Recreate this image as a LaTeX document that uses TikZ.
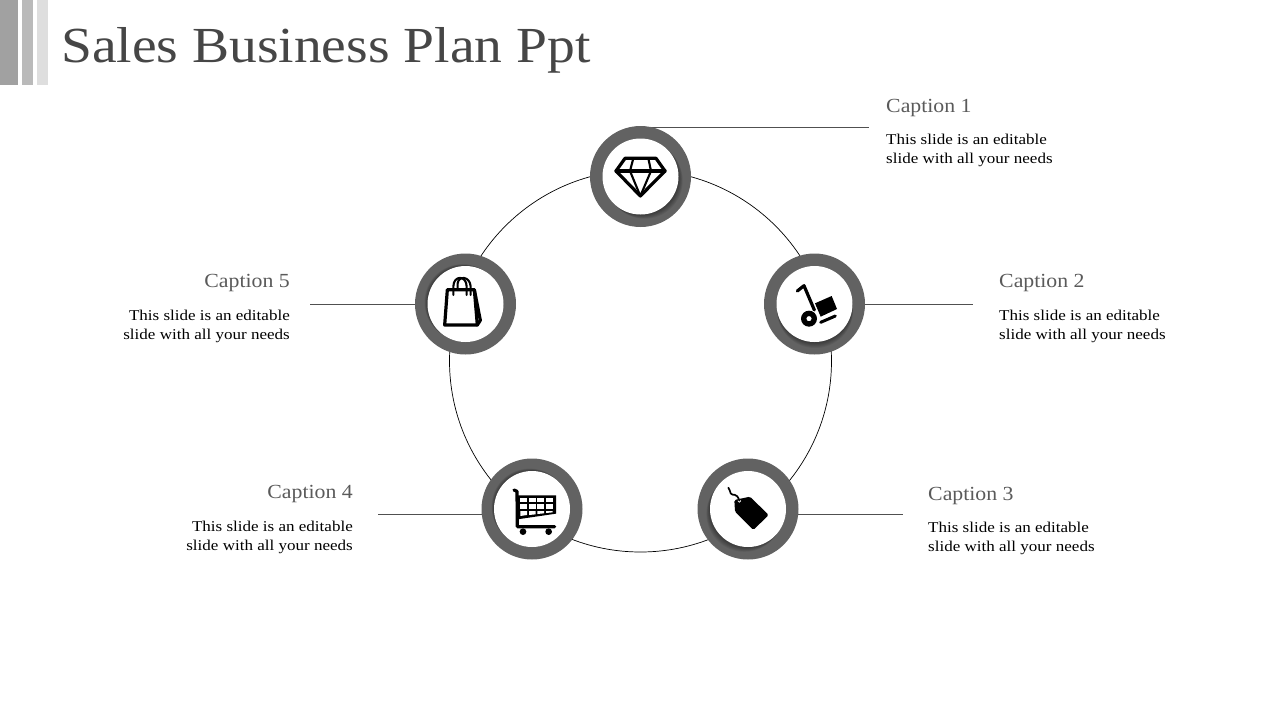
\documentclass[tikz,border=0pt]{standalone}
\usepackage{fontspec}
\setmainfont[FakeStretch=1.09]{Liberation Serif}
\newfontfamily\bodyfnt[FakeStretch=1.135]{Liberation Serif}
\newfontfamily\titlefnt[FakeStretch=1.10]{Liberation Serif}
\usetikzlibrary{backgrounds}
\definecolor{ringgray}{HTML}{626262}
\definecolor{titlegray}{HTML}{464646}
\definecolor{capgray}{HTML}{5A5A5A}
\definecolor{leadgray}{HTML}{505050}
\tikzset{
  ring/.style={circle,draw=none,fill=ringgray,minimum size=101pt,inner sep=0pt},
  disc/.style={circle,draw=none,fill=white,minimum size=76pt,inner sep=0pt},
  bar/.style={draw=none,inner sep=0pt,anchor=north west},
  titletext/.style={anchor=base west,inner sep=0pt,text=titlegray,font=\titlefnt\fontsize{50.5}{56}\selectfont},
  captext/.style={inner sep=0pt,text=capgray,font=\fontsize{20}{24}\selectfont},
  bodytext/.style={inner sep=0pt,text=black,font=\bodyfnt\fontsize{15}{19}\selectfont},
  leader/.style={draw=leadgray,line width=0.8pt},
  hubring/.style={circle,draw=black,line width=0.7pt,minimum size=382pt,inner sep=0pt},
  iconline/.style={draw=black,line width=3.2pt,line join=round,line cap=round},
  iconthin/.style={draw=black,line width=2.1pt,line join=round,line cap=round},
  zoomed/.style={shift={#1},x=0.33333pt,y=-0.33333pt}
}
\begin{document}
\begin{tikzpicture}[x=1pt,y=-1pt]
\useasboundingbox (0,0) rectangle (1280,720);
% header bars
\node[bar,fill=black!37,minimum width=18pt,minimum height=85pt] (barA) at (0,0) {};
\node[bar,fill=black!27,minimum width=11pt,minimum height=85pt] (barB) at (22,0) {};
\node[bar,fill=black!13,minimum width=11pt,minimum height=85pt] (barC) at (37,0) {};
\node[titletext] (title) at (61,62) {Sales Business Plan Ppt};
% rings with inner shadow
\foreach \nm/\px/\py/\dx/\dy in {n1/640.5/176.5/.7/.7,n2/814.5/304/.1/1,n3/748/509/-.6/.8,n4/532/509/-.4/-.4,n5/465.5/304/-.5/-.3}{
  \node[ring] (\nm) at (\px,\py) {};
  \begin{scope}
    \clip (\nm) circle (50.5);
    \foreach \k in {1,2,3,4,5,6}{
      \fill[black,opacity=.07] (\nm) ++({\k*\dx},{\k*\dy}) circle (38);
    }
  \end{scope}
  \node[disc] (\nm w) at (\px,\py) {};
}
% free ends of leaders
\coordinate (e1) at (869,127.5);
\coordinate (e2) at (973,304.5);
\coordinate (e3) at (903,514.5);
\coordinate (e4) at (378,514.5);
\coordinate (e5) at (310,304.5);
\begin{scope}[on background layer]
  \node[hubring] (hub) at (640.5,361) {};
  \draw[leader] (n1.center |- e1) -- (e1);
  \draw[leader] (n2.center |- e2) -- (e2);
  \draw[leader] (n3.center |- e3) -- (e3);
  \draw[leader] (n4.center |- e4) -- (e4);
  \draw[leader] (n5.center |- e5) -- (e5);
\end{scope}
% diamond
\begin{scope}[zoomed={(580,115)}]
  \draw[iconline] (135,130) -- (228,130) -- (255,168) -- (181,243) -- (108,168) -- cycle;
  \draw[iconline] (108,168) -- (255,168);
  \draw[iconthin] (160,130) -- (150,168) -- (181,243) -- (213,168) -- (205,130);
\end{scope}
% hand truck
\begin{scope}[zoomed={(755,245)}]
  \draw[iconline] (127,138) -- (147,122) -- (178,195);
  \fill[black] (180,175) -- (230,153) -- (246,192) -- (197,215) -- cycle;
  \draw[draw=black,line width=3pt,line cap=round] (197,232) -- (241,213);
  \fill[black,even odd rule] (162,221) circle (24) (162,221) circle (8);
\end{scope}
% tag
\begin{scope}[zoomed={(690,450)}]
  \fill[black,rounded corners=1.5pt] (133,150) -- (180,140) -- (236,195) -- (190,240) -- (135,185) -- cycle;
  \fill[white] (148,153) circle (5);
  \draw[draw=black,line width=1.7pt,line cap=round] (148,152) .. controls (140,125) and (128,140) .. (122,130) .. controls (118,122) and (120,118) .. (115,113);
\end{scope}
% cart
\begin{scope}[zoomed={(472,450)}]
  \draw[iconline] (126,120) -- (135,124) -- (136,230) -- (248,230);
  \fill[black] (136,136) -- (252,136) -- (252,191) -- (136,208) -- cycle;
  \foreach \x in {145,171,196,222}{
    \foreach \y/\h in {143/14,163/14}{
      \fill[white] (\x,\y) rectangle ++(20,\h);
    }
  }
  \fill[white] (145,183) -- (165,183) -- (165,195) -- (145,198) -- cycle;
  \fill[white] (171,183) -- (191,183) -- (191,193) -- (171,195) -- cycle;
  \fill[white] (196,183) -- (216,183) -- (216,190) -- (196,192) -- cycle;
  \fill[white] (222,183) -- (242,183) -- (242,187) -- (222,189) -- cycle;
  \fill[black] (153,245) circle (10);
  \fill[black] (230,245) circle (10);
\end{scope}
% bag
\begin{scope}[zoomed={(405,245)}]
  \draw[iconline] (127,134) -- (208,134) -- (217,240) -- (119,240) -- cycle;
  \draw[iconline] (208,134) -- (226,226) -- (217,240);
  \draw[iconthin] (145,150) -- (145,125) .. controls (145,90) and (185,90) .. (185,125) -- (185,150);
  \draw[iconthin] (158,134) -- (158,115) .. controls (160,92) and (195,92) .. (197,125) -- (197,150);
\end{scope}
% captions
\node[captext,anchor=base west] (c1) at (886,112) {Caption 1};
\node[bodytext,anchor=north west,align=left] (b1) at (886,134) {This slide is an editable\\slide with all your needs};
\node[captext,anchor=base west] (c2) at (999,287) {Caption 2};
\node[bodytext,anchor=north west,align=left] (b2) at (999,310) {This slide is an editable\\slide with all your needs};
\node[captext,anchor=base west] (c3) at (928,500) {Caption 3};
\node[bodytext,anchor=north west,align=left] (b3) at (928,522) {This slide is an editable\\slide with all your needs};
\node[captext,anchor=base east] (c4) at (353,498) {Caption 4};
\node[bodytext,anchor=north east,align=right] (b4) at (353,521) {This slide is an editable\\slide with all your needs};
\node[captext,anchor=base east] (c5) at (290,287) {Caption 5};
\node[bodytext,anchor=north east,align=right] (b5) at (290,310) {This slide is an editable\\slide with all your needs};
\end{tikzpicture}
\end{document}
